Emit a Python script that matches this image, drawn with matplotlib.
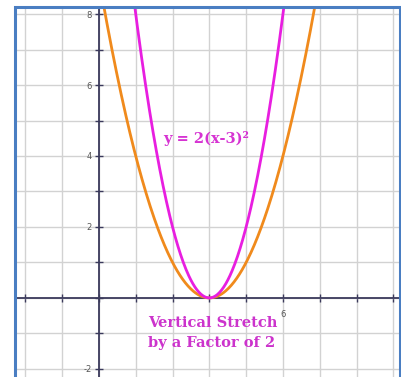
import numpy as np
import matplotlib.pyplot as plt
from matplotlib.patches import Rectangle

# parent parabola and its vertical stretch by 2, both with vertex at (3, 0)
h = 3
a_parent = 1
a_stretch = 2
xs = np.linspace(-2.5, 8.5, 600)
y_parent = a_parent * (xs - h) ** 2
y_stretch = a_stretch * (xs - h) ** 2

x_ticks = np.arange(-2, 9)
y_ticks = np.arange(-2, 9)
y_labeled = [-2, 2, 4, 6, 8]
x_label_pos = 5
x_label_text = "6"

fig = plt.figure(figsize=(4.02, 3.77), dpi=100)
ax = fig.add_axes([15 / 402, 0, 385 / 402, 1 - 7 / 377])
ax.set_xlim(-2.28, 8.18)
ax.set_ylim(-2.23, 8.2)

ax.grid(True, color="#d2d2d2", lw=1.0)
ax.set_axisbelow(True)

ax.plot(xs, y_parent, color="#f08a1c", lw=2.0, zorder=3)
ax.plot(xs, y_stretch, color="#e81ee0", lw=2.0, zorder=4)

# axes through the origin
for s in ["top", "right"]:
    ax.spines[s].set_visible(False)
for s in ["left", "bottom"]:
    ax.spines[s].set_position(("data", 0))
    ax.spines[s].set_color("#3b3a5c")
    ax.spines[s].set_linewidth(1.3)
    ax.spines[s].set_zorder(2.5)

ax.set_xticks(x_ticks)
ax.set_xticklabels([x_label_text if t == x_label_pos else "" for t in x_ticks])
ax.set_yticks(y_ticks)
ax.set_yticklabels([str(t) if t in y_labeled else "" for t in y_ticks])
ax.tick_params(direction="inout", length=6, width=1, color="#3b3a5c",
               labelsize=6, labelcolor="#555555", pad=2)
ax.tick_params(axis="x", pad=6)

ax.text(1.74, 4.5, "y = 2(x-3)²", color="#d633d2", fontsize=10.5,
        fontweight="bold", family="DejaVu Serif", va="center", zorder=5)
ax.text(1.33, -0.72, "Vertical Stretch", color="#cc33cc", fontsize=10.5,
        fontweight="bold", family="DejaVu Serif", va="center", zorder=5)
ax.text(1.33, -1.28, "by a Factor of 2", color="#cc33cc", fontsize=10.5,
        fontweight="bold", family="DejaVu Serif", va="center", zorder=5)

# blue frame round the plot
fig.patches.append(Rectangle((15 / 402, -0.05), 385 / 402, 1.05 - 7 / 377,
                             transform=fig.transFigure, fill=False,
                             edgecolor="#4a7ec2", lw=2.2, zorder=10))

fig.savefig("out.png", dpi=100)
